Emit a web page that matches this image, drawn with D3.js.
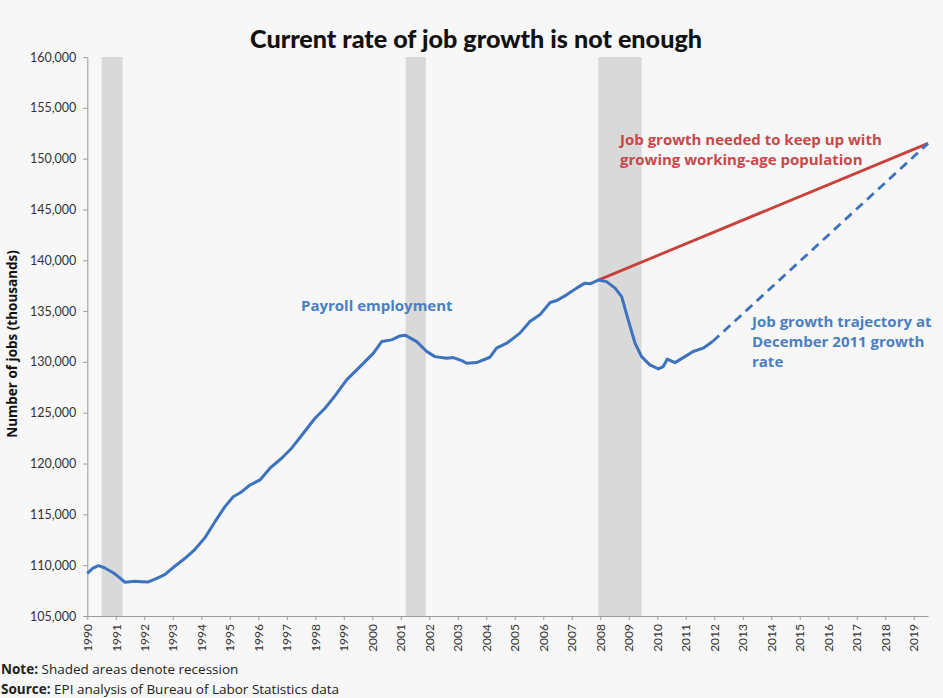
<!DOCTYPE html>
<html>
<head>
<meta charset="utf-8">
<script src="https://cdn.jsdelivr.net/npm/d3@7"></script>
<style>
  body { margin: 0; background: #f7f7f7; }
  svg { display: block; font-family: Lato, "Open Sans", sans-serif; }
</style>
</head>
<body>
<svg id="chart"></svg>
<script>
// Payroll employment (thousands)
const payrollDates = [
  1990.00, 1990.20, 1990.39, 1990.60, 1990.91, 1991.09, 1991.32, 1991.50, 1991.67, 1991.90,
  1992.14, 1992.38, 1992.55, 1992.73, 1993.08, 1993.43, 1993.78, 1994.13, 1994.48, 1994.83,
  1995.12, 1995.42, 1995.71, 1996.06, 1996.41, 1996.82, 1997.17, 1997.58, 1997.99, 1998.34,
  1998.67, 1999.10, 1999.57, 2000.04, 2000.33, 2000.68, 2000.97, 2001.15, 2001.56, 2001.91,
  2002.20, 2002.61, 2002.84, 2003.14, 2003.31, 2003.66, 2004.13, 2004.36, 2004.72, 2005.18,
  2005.53, 2005.88, 2006.24, 2006.47, 2006.82, 2007.17, 2007.46, 2007.64, 2007.93, 2008.22,
  2008.52, 2008.75, 2008.98, 2009.22, 2009.45, 2009.74, 2010.04, 2010.21, 2010.35, 2010.62,
  2010.97, 2011.26, 2011.61, 2011.94
];
const payrollJobs = [
  109200, 109700, 109950, 109750, 109260, 108870, 108320, 108380, 108420, 108380,
  108350, 108640, 108850, 109100, 109920, 110680, 111560, 112710, 114280, 115760,
  116740, 117230, 117890, 118390, 119540, 120520, 121510, 122980, 124460, 125440,
  126590, 128230, 129540, 130860, 132000, 132170, 132560, 132630, 132000, 131020,
  130520, 130360, 130430, 130130, 129870, 129930, 130460, 131350, 131840, 132830,
  133970, 134630, 135840, 136040, 136600, 137260, 137750, 137680, 138050, 137900,
  137260, 136430, 134140, 131840, 130520, 129710, 129310, 129540, 130270, 129930,
  130520, 131020, 131350, 132000
];

// Projections to mid-2019
const neededDates = [2007.93, 2019.5];
const neededJobs = [138050, 151500];
const trajectoryDates = [2011.94, 2019.5];
const trajectoryJobs = [132000, 151500];

// Recessions (start, end) in decimal years
const recessionStarts = [1990.5, 2001.17, 2007.93];
const recessionEnds = [1991.24, 2001.88, 2009.45];

const yearTicks = d3.range(1990, 2020);
const jobTicks = d3.range(105000, 160001, 5000);

const width = 943, height = 698;
const margin = { top: 57, right: 15, bottom: 82, left: 87.3 };

const svg = d3.select("#chart")
    .attr("width", width)
    .attr("height", height);

const x = d3.scaleLinear()
    .domain([1990, 2019.5])
    .range([margin.left, width - margin.right]);

const y = d3.scaleLinear()
    .domain([105000, 160000])
    .range([height - margin.bottom, margin.top]);

// shaded recession bars
svg.append("g")
  .selectAll("rect")
  .data(recessionStarts)
  .join("rect")
    .attr("x", d => x(d))
    .attr("width", (d, i) => x(recessionEnds[i]) - x(d))
    .attr("y", y(160000))
    .attr("height", y(105000) - y(160000))
    .attr("fill", "#d9d9d9");

// y axis
svg.append("g")
    .attr("transform", `translate(${margin.left},0)`)
    .call(d3.axisLeft(y).tickValues(jobTicks).tickFormat(d3.format(",")).tickSize(4).tickSizeOuter(0))
    .call(g => g.select(".domain").attr("stroke", "#9a9a9a"))
    .call(g => g.selectAll(".tick line").attr("stroke", "#9a9a9a"))
    .call(g => g.selectAll(".tick text")
        .attr("x", -11)
        .attr("fill", "#333")
        .style("font-family", "Lato, sans-serif")
        .style("font-size", "12.5px"));

// x axis
svg.append("g")
    .attr("transform", `translate(0,${y(105000)})`)
    .call(d3.axisBottom(x).tickValues(yearTicks).tickFormat(d3.format("d")).tickSize(4).tickSizeOuter(0))
    .call(g => g.select(".domain").attr("stroke", "#9a9a9a"))
    .call(g => g.selectAll(".tick line").attr("stroke", "#9a9a9a"))
    .call(g => g.selectAll(".tick text")
        .attr("transform", "rotate(-90)")
        .attr("x", -8)
        .attr("y", 0)
        .attr("dy", "0.35em")
        .attr("text-anchor", "end")
        .attr("fill", "#333")
        .style("font-family", "Lato, sans-serif")
        .style("font-size", "12px"));

const line = d3.line()
    .x(d => x(d[0]))
    .y(d => y(d[1]));

// needed growth (red)
svg.append("path")
    .datum(d3.zip(neededDates, neededJobs))
    .attr("d", line)
    .attr("fill", "none")
    .attr("stroke", "#c8413b")
    .attr("stroke-width", 2.8);

// trajectory (blue dashed)
svg.append("path")
    .datum(d3.zip(trajectoryDates, trajectoryJobs))
    .attr("d", line)
    .attr("fill", "none")
    .attr("stroke", "#3d72bf")
    .attr("stroke-width", 2.8)
    .attr("stroke-dasharray", "9,6");

// payroll employment
svg.append("path")
    .datum(d3.zip(payrollDates, payrollJobs))
    .attr("d", line)
    .attr("fill", "none")
    .attr("stroke", "#3d72bf")
    .attr("stroke-width", 3)
    .attr("stroke-linejoin", "round");

// title
svg.append("text")
    .attr("x", 476)
    .attr("y", 48)
    .attr("text-anchor", "middle")
    .attr("textLength", 452)
    .attr("lengthAdjust", "spacingAndGlyphs")
    .style("font-family", "Lato, sans-serif")
    .style("font-weight", "900")
    .style("font-size", "25px")
    .attr("fill", "#111")
    .text("Current rate of job growth is not enough");

// y label
svg.append("text")
    .attr("transform", "translate(17,344) rotate(-90)")
    .attr("text-anchor", "middle")
    .style("font-family", "'Open Sans', sans-serif")
    .style("font-weight", "bold")
    .style("font-size", "13.5px")
    .attr("fill", "#111")
    .text("Number of jobs (thousands)");

// annotations
const note = (lines, x0, y0, color, size) => {
  const t = svg.append("text")
      .attr("x", x0)
      .attr("y", y0)
      .attr("fill", color)
      .style("font-family", "'Open Sans', sans-serif")
      .style("font-weight", "bold")
      .style("font-size", size + "px");
  lines.forEach((s, i) => t.append("tspan").attr("x", x0).attr("dy", i ? 20 : 0).text(s));
};
note(["Payroll employment"], 301, 311, "#4a7fc1", 15);
note(["Job growth needed to keep up with", "growing working-age population"], 620, 145, "#c9474a", 15);
note(["Job growth trajectory at", "December 2011 growth", "rate"], 752, 327, "#4a7fc1", 15);

// footnotes
const foot = (label, s, y0) => {
  const t = svg.append("text")
      .attr("x", 1)
      .attr("y", y0)
      .attr("fill", "#222")
      .style("font-family", "'Open Sans', sans-serif")
      .style("font-size", "13.5px");
  t.append("tspan").style("font-weight", "bold").text(label);
  t.append("tspan").text(" " + s);
};
foot("Note:", "Shaded areas denote recession", 674);
foot("Source:", "EPI analysis of Bureau of Labor Statistics data", 694);
</script>
</body>
</html>
